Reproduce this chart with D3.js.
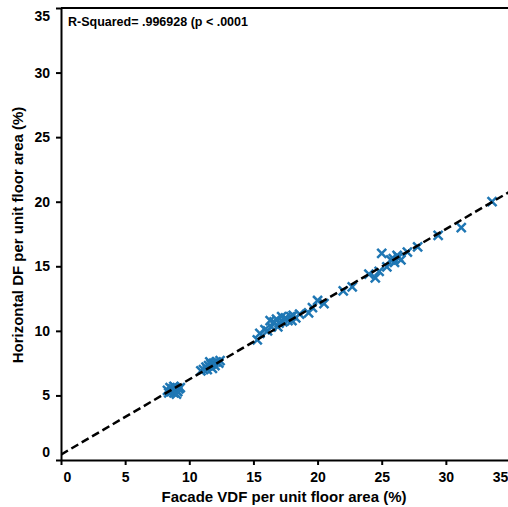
<!DOCTYPE html>
<html>
<head>
<meta charset="utf-8">
<script src="https://cdn.jsdelivr.net/npm/d3@7"></script>
<style>
    body { margin: 0; background: #fff; }
    svg { display: block; font-family: "Liberation Sans", Arial, sans-serif; }
    .tickLbl { font-size: 14px; font-weight: bold; }
</style>
</head>
<body>
<div id="plotSect"></div>
<script>
/* global d3 */

// points (facade VDF %, horizontal DF %)
let vdf = [
    8.3, 8.5, 8.6, 8.7, 8.8, 8.9, 9.0, 9.1, 9.2, 8.4, 9.3, 8.8, 9.0,
    10.9, 11.1, 11.3, 11.4, 11.5, 11.7, 11.8, 11.9, 12.0, 12.1, 12.3, 12.4, 11.6,
    15.3, 15.5, 15.9, 16.1, 16.3, 16.4, 16.6, 16.9, 17.0, 17.3, 17.5, 17.7, 17.9,
    18.1, 18.3, 18.6, 17.2, 16.8, 18.0, 19.3, 19.6, 20.0, 20.5,
    22.0, 22.7, 24.0, 24.5, 24.8, 25.4, 25.0, 25.7, 26.0, 26.2, 26.5, 27.0,
    27.8, 29.4, 31.2, 33.6, 25.9, 26.3
];
let hdf = [
    5.4, 5.6, 5.3, 5.5, 5.2, 5.6, 5.4, 5.3, 5.5, 5.2, 5.6, 5.7, 5.1,
    6.9, 7.0, 7.2, 7.0, 7.3, 7.4, 7.1, 7.5, 7.3, 7.6, 7.5, 7.7, 7.6,
    9.3, 9.8, 10.1, 10.0, 10.8, 10.3, 10.7, 10.3, 10.6, 10.7, 11.0, 10.8, 11.1,
    11.2, 11.0, 11.3, 11.1, 10.9, 10.8, 11.4, 11.8, 12.35, 12.1,
    13.1, 13.4, 14.4, 14.1, 14.6, 14.95, 16.0, 15.5, 15.3, 15.85, 15.5, 16.1,
    16.5, 17.4, 18.0, 20.0, 15.6, 15.7
];
let fitLine = { intercept: 0.42, slope: 0.582 };
let tickVals = [0, 5, 10, 15, 20, 25, 30, 35];
let rsqText = "R-Squared= .996928 (p < .0001";
let xTitle = "Facade VDF per unit floor area (%)";
let yTitle = "Horizontal DF per unit floor area (%)";

let points = vdf.map(function(v, i) { return { x: v, y: hdf[i] }; });

let SVGwidth = 508,
SVGheight = 507,
margin = {top: 8, right: -2, bottom: 47, left: 61},
width = SVGwidth - margin.left - margin.right,
height = SVGheight - margin.top - margin.bottom;

let svg = d3.select("#plotSect").append("svg")
    .attr("width", SVGwidth)
    .attr("height", SVGheight)
    .append("g")
    .attr("transform", "translate(" + margin.left + "," + margin.top + ")");

let xScale = d3.scaleLinear().domain([0, 35]).range([0, width]);
let yScale = d3.scaleLinear().domain([0, 35]).range([height, 0]);

// frame top
svg.append("line")
    .attr("x1", 0).attr("x2", width)
    .attr("y1", 0).attr("y2", 0)
    .attr("stroke", "#000")
    .attr("stroke-width", 2);

let xAxis = d3.axisBottom(xScale).tickValues(tickVals).tickSize(5).tickSizeOuter(0).tickPadding(7);
let yAxis = d3.axisLeft(yScale).tickValues(tickVals).tickSize(5).tickSizeOuter(0).tickPadding(6);

let gx = svg.append("g")
    .attr("class", "xAxis")
    .attr("transform", "translate(0," + height + ")")
    .call(xAxis);

let gy = svg.append("g")
    .attr("class", "yAxis")
    .call(yAxis);

[gx, gy].forEach(function(g) {
    g.select(".domain").attr("stroke", "#000").attr("stroke-width", 2);
    g.selectAll(".tick line").attr("stroke", "#000").attr("stroke-width", 2);
    g.selectAll(".tick text")
        .attr("class", "tickLbl")
        .attr("fill", "#000")
        .style("font-family", "'Liberation Sans', Arial, sans-serif");
});

// edge labels are pulled inward
gx.selectAll(".tick text").attr("dx", function(d) {
    if (d == 0) { return 6; }
    if (d == 35) { return -10; }
    return 0;
});
gy.selectAll(".tick text").attr("dy", function(d) {
    if (d == 0) { return "-0.22em"; }
    if (d == 35) { return "0.9em"; }
    return "0.32em";
});

svg.append("text")
    .attr("transform", "translate(" + (223) + " ," + (height + 42) + ")")
    .style("text-anchor", "middle")
    .style("font-size", "15px")
    .style("font-weight", "bold")
    .text(xTitle);

svg.append("text")
    .attr("transform", "rotate(-90)")
    .attr("x", 0 - 227)
    .attr("y", -38)
    .style("text-anchor", "middle")
    .style("font-size", "15px")
    .style("font-weight", "bold")
    .text(yTitle);

svg.append("text")
    .attr("x", 7)
    .attr("y", 18)
    .style("font-size", "12.5px")
    .style("font-weight", "bold")
    .text(rsqText);

let clip = svg.append("clipPath").attr("id", "plotClip")
    .append("rect").attr("width", width).attr("height", height);

let fitData = [0, 35].map(function(x) {
    return { x: x, y: fitLine.intercept + fitLine.slope * x };
});

let line = d3.line()
    .x(function(d) { return xScale(d.x); })
    .y(function(d) { return yScale(d.y); });

let s = 4.5;
svg.append("g").selectAll(".point")
    .data(points)
    .enter().append("path")
    .attr("class", "point")
    .attr("transform", function(d) { return "translate(" + xScale(d.x) + "," + yScale(d.y) + ")"; })
    .attr("d", "M" + (-s) + "," + (-s) + "L" + s + "," + s + "M" + (-s) + "," + s + "L" + s + "," + (-s))
    .attr("stroke", "#1f77b4")
    .attr("stroke-width", 2.5)
    .attr("fill", "none");

svg.append("path")
    .datum(fitData)
    .attr("clip-path", "url(#plotClip)")
    .attr("d", line)
    .attr("fill", "none")
    .attr("stroke", "#000")
    .attr("stroke-width", 2.5)
    .attr("stroke-dasharray", "8,4");
</script>
</body>
</html>
